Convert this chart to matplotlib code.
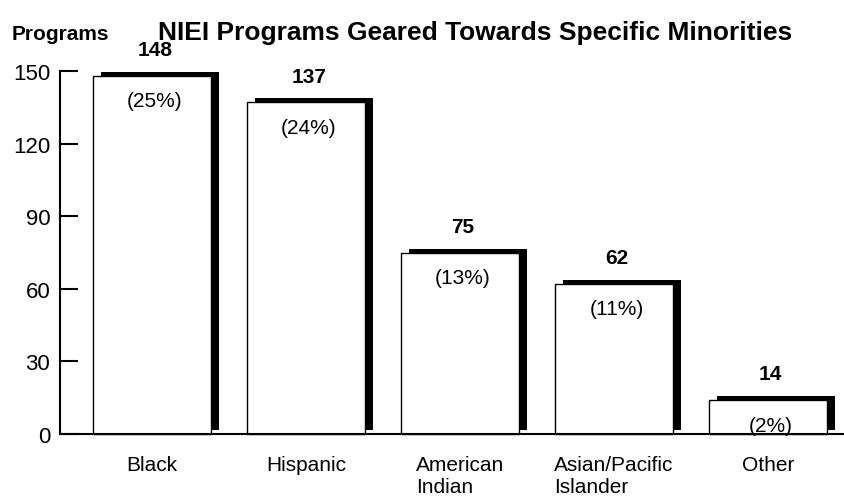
import matplotlib
matplotlib.use('Agg')
import matplotlib.pyplot as plt
import numpy as np
from matplotlib.transforms import ScaledTranslation

categories = ["Black", "Hispanic", "American\nIndian", "Asian/Pacific\nIslander", "Other"]
programs = [148, 137, 75, 62, 14]
percent_labels = ["(25%)", "(24%)", "(13%)", "(11%)", "(2%)"]
yticks = [0, 30, 60, 90, 120, 150]

plt.rcParams['font.family'] = ['Liberation Sans', 'DejaVu Sans']

fig = plt.figure(figsize=(8.45, 5.02), dpi=100)
ax = fig.add_axes([60/845, 67/502, 785/845, 363/502])
x = np.arange(len(categories))
w = 0.766

shadow = ax.transData + ScaledTranslation(8/100, 4/100, fig.dpi_scale_trans)
ax.bar(x, programs, width=w, color='black', transform=shadow, zorder=1, clip_on=False)
ax.bar(x, programs, width=w, color='white', edgecolor='black', linewidth=1.0, zorder=2, clip_on=False)

ax.set_xlim(-0.597, 4.5)
ax.set_ylim(0, 150)
for s in ['top', 'right']:
    ax.spines[s].set_visible(False)
for s in ['left', 'bottom']:
    ax.spines[s].set_linewidth(1.5)

ax.set_yticks(yticks)
ax.set_yticklabels([str(t) for t in yticks], fontsize=16)
ax.tick_params(axis='y', direction='in', length=13, width=1.5, pad=7)
ax.set_xticks(x)
ax.set_xticklabels(categories, fontsize=15, linespacing=1.2)
for lbl in ax.get_xticklabels():
    lbl.set_multialignment('left')
ax.tick_params(axis='x', length=0, pad=15)

for xi, v, p in zip(x, programs, percent_labels):
    ax.annotate(str(v), (xi, v), xytext=(2, 19), textcoords='offset points',
                ha='center', va='center', fontsize=15, weight='bold',
                annotation_clip=False)
    ax.annotate(p, (xi, v), xytext=(2, -18), textcoords='offset points',
                ha='center', va='center', fontsize=15,
                zorder=3, annotation_clip=False)

fig.text(475/845, 1 - 33/502, "NIEI Programs Geared Towards Specific Minorities",
         fontsize=19, weight='bold', ha='center', va='center')
fig.text(12/845, 1 - 35/502, "Programs", fontsize=15, weight='bold',
         ha='left', va='center')

fig.savefig('out.png', dpi=100)
